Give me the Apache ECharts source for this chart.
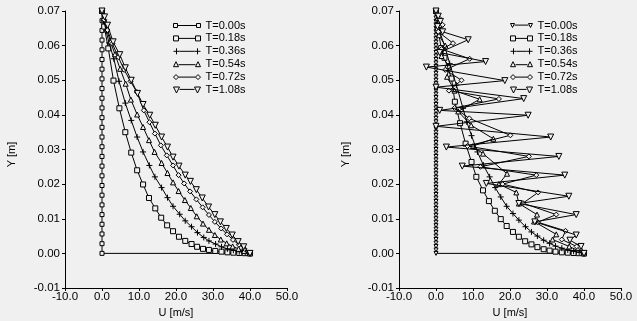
<!DOCTYPE html>
<html>
<head>
<meta charset="utf-8">
<script src="https://cdn.jsdelivr.net/npm/echarts@6/dist/echarts.min.js"></script>
<style>
html,body{margin:0;padding:0;background:#f0f0f0;overflow:hidden;}
#c{width:637px;height:321px;}
</style>
</head>
<body>
<div id="c"></div>
<script>
// ---------- data (U in m/s, Y in m) ----------
const seriesNames = ['T=0.00s','T=0.18s','T=0.36s','T=0.54s','T=0.72s','T=1.08s'];
const xTicks = [-10, 0, 10, 20, 30, 40, 50];
const yTicks = [-0.01, 0, 0.01, 0.02, 0.03, 0.04, 0.05, 0.06, 0.07];

// Left panel
const uL000 = [0,0,0,0,0,0,0,0,0,0,0,0,0,0,0,0,0,0,0,0,0,0,0,0,0,0,40];
const yL000 = [0.07,0.0672,0.0644,0.0616,0.0588,0.056,0.0532,0.0504,0.0476,0.0448,0.042,0.0392,0.0364,0.0336,0.0308,0.028,0.0252,0.0224,0.0196,0.0168,0.014,0.0112,0.0084,0.0056,0.0028,0,0];
const uL018 = [0,0.6,1.7,3.1,4.7,6.3,7.9,9.5,11.1,12.7,14.4,16.0,17.6,19.2,20.8,22.5,24.2,25.7,27.3,28.9,30.6,32.3,33.9,35.5,37.1,38.6,40];
const yL018 = [0.07,0.0655,0.0592,0.0499,0.0419,0.0350,0.0291,0.0240,0.0199,0.0160,0.0130,0.0103,0.0081,0.0064,0.0048,0.0036,0.0027,0.0019,0.0013,0.0010,0.0007,0.0005,0.0003,0.0002,0.0001,0.00005,0];
const uL036 = [0,0.5,1.1,1.9,3.2,4.6,6.3,7.9,9.5,11.1,12.8,14.3,16.1,17.7,19.2,21.0,22.5,24.2,25.8,27.5,28.9,30.7,32.3,33.9,35.5,37.1,38.7,40];
const yL036 = [0.07,0.0672,0.0643,0.0608,0.0562,0.0497,0.0434,0.0384,0.0336,0.0293,0.0254,0.0221,0.0190,0.0161,0.0136,0.0113,0.0094,0.0077,0.0060,0.0046,0.0036,0.0027,0.0019,0.0013,0.0009,0.0005,0.0002,0];
const uL054 = [0,0.4,1.2,2.3,3.5,4.9,6.4,7.8,9.5,11.1,12.7,14.2,16.1,17.7,19.2,20.7,22.4,24.0,25.6,27.3,28.9,30.5,32.1,33.7,35.3,36.9,38.4,40];
const yL054 = [0.07,0.0678,0.0647,0.0612,0.0575,0.0533,0.0490,0.0444,0.0401,0.0365,0.0327,0.0293,0.0261,0.0232,0.0205,0.0180,0.0154,0.0131,0.0107,0.0086,0.0068,0.0053,0.0040,0.0029,0.0020,0.0013,0.0007,0];
const uL072 = [0,0.6,1.5,2.8,4.4,6.0,7.7,9.4,11.3,12.8,14.3,15.9,17.5,19.2,20.7,22.2,23.8,25.5,27.2,28.9,30.5,32.2,33.8,35.4,37.0,38.5,40];
const yL072 = [0.07,0.0675,0.0645,0.0606,0.0567,0.0530,0.0497,0.0466,0.0413,0.0379,0.0346,0.0312,0.0283,0.0254,0.0226,0.0202,0.0179,0.0156,0.0133,0.0111,0.0091,0.0072,0.0055,0.0039,0.0025,0.0013,0];
const uL108 = [0,0.7,1.5,3.0,4.8,6.3,7.9,9.6,11.1,12.9,14.4,16.1,17.7,19.2,20.8,22.5,23.9,25.5,27.1,28.8,30.5,32.0,33.6,35.2,36.8,38.3,40];
const yL108 = [0.07,0.0683,0.0659,0.0611,0.0574,0.0536,0.0500,0.0462,0.0430,0.0399,0.0370,0.0336,0.0307,0.0278,0.0252,0.0226,0.0208,0.0184,0.0160,0.0134,0.0112,0.0091,0.0072,0.0053,0.0034,0.0019,0];

// Right panel
const uR000 = [0,0,0,0,0,0,0,0,0,0,0,0,0,0,0,0,0,0,0,0,0,0,0,0,0,0,0,0,0,0,0,0,0,0,0,0,0,0,0,0,0,0,0,0,0,0,0,0,0,0,0,0,0,0,0,0,0,0,0,0,0,0,0,0,0,0,0,0,0,0,0,40];
const yR000 = [0.070,0.069,0.068,0.067,0.066,0.065,0.064,0.063,0.062,0.061,0.060,0.059,0.058,0.057,0.056,0.055,0.054,0.053,0.052,0.051,0.050,0.049,0.048,0.047,0.046,0.045,0.044,0.043,0.042,0.041,0.040,0.039,0.038,0.037,0.036,0.035,0.034,0.033,0.032,0.031,0.030,0.029,0.028,0.027,0.026,0.025,0.024,0.023,0.022,0.021,0.020,0.019,0.018,0.017,0.016,0.015,0.014,0.013,0.012,0.011,0.010,0.009,0.008,0.007,0.006,0.005,0.004,0.003,0.002,0.001,0.000,0];
const uR018 = [0,0.5,1.4,2.3,3.2,4.2,5.1,6.5,8.0,9.6,10.9,12.7,14.3,15.9,17.5,19.1,20.8,22.4,24.1,25.8,27.4,29.1,30.7,32.3,34.0,35.6,37.2,38.6,40];
const yR018 = [0.07,0.065,0.0593,0.0565,0.0535,0.0505,0.0438,0.0376,0.0317,0.0264,0.0221,0.0182,0.0151,0.0123,0.0099,0.0079,0.0062,0.0048,0.0035,0.0026,0.0018,0.0012,0.0008,0.0005,0.0003,0.0002,0.0001,0.00005,0];
const uR036 = [0,1.0,2.4,3.7,5.5,7.3,8.3,9.6,11.2,12.8,14.5,16.0,17.5,19.1,20.8,22.4,24.2,25.8,27.4,29.1,30.7,32.3,34.0,35.6,37.2,38.7,40];
const yR036 = [0.07,0.064,0.0597,0.0548,0.0486,0.0419,0.0380,0.0340,0.0293,0.0255,0.0221,0.0190,0.0163,0.0136,0.0115,0.0096,0.0077,0.0062,0.0050,0.0038,0.0029,0.0021,0.0015,0.0010,0.0006,0.0003,0];
const uR054 = [0,0.5,1.2,0.8,2.5,1.5,3.5,3.0,5.0,11.8,6.0,9.5,15.5,10.0,12.7,19.2,17.0,21.7,22.4,27.3,26.5,32.5,31.5,36.0,40];
const yR054 = [0.07,0.068,0.066,0.063,0.060,0.057,0.054,0.051,0.047,0.0445,0.041,0.037,0.0331,0.031,0.0288,0.023,0.020,0.0176,0.0144,0.0112,0.0092,0.0055,0.0040,0.0020,0];
const uR072 = [0,0.8,1.8,0.6,4.6,1.5,9.1,2.5,6.9,3.5,17.0,5.0,9.0,20.1,8.5,25.1,12.0,27.1,18.0,27.6,23.5,32.5,27.5,35.0,34.0,38.0,40];
const yR072 = [0.07,0.068,0.066,0.064,0.0607,0.059,0.0562,0.053,0.050,0.047,0.0446,0.042,0.039,0.0341,0.031,0.028,0.025,0.0226,0.020,0.0176,0.0145,0.0112,0.009,0.0065,0.004,0.002,0];
const uR108 = [0,0.6,1.2,0.4,1.8,8.7,1.0,13.4,-2.6,18.6,0,23.7,1.0,24.9,0,31.0,2.8,33.2,7.1,34.8,13.6,35.9,22.4,37.9,26.7,37.9,36.2,39.2,40];
const yR108 = [0.07,0.0685,0.067,0.0655,0.064,0.0617,0.058,0.0554,0.0538,0.0499,0.048,0.0447,0.0413,0.0399,0.0367,0.0336,0.0307,0.0280,0.0252,0.0226,0.0202,0.0165,0.0144,0.0112,0.0091,0.0053,0.0038,0.0020,0];

// ---------- styling ----------
const BG = '#f0f0f0';
const FONT = '"Liberation Sans", Arial, sans-serif';
const zip = (u, y) => u.map((v, i) => [v, y[i]]);

const leftSets = [[uL000,yL000],[uL018,yL018],[uL036,yL036],[uL054,yL054],[uL072,yL072],[uL108,yL108]];
const rightSets = [[uR000,yR000],[uR018,yR018],[uR036,yR036],[uR054,yR054],[uR072,yR072],[uR108,yR108]];

const plusPath = 'path://M0,5L10,5M5,0L5,10';
const leftSymbols = [['rect',4,0],['rect',5,0],[plusPath,6,0],['triangle',5,0],['diamond',5,0],['triangle',6,180]];
const rightSymbols = [['triangle',4,180],['rect',5,0],[plusPath,6,0],['triangle',5,0],['diamond',5,0],['triangle',6,180]];

function mkSeries(sets, syms, idx) {
  return sets.map((s, i) => ({
    name: seriesNames[i],
    type: 'line',
    xAxisIndex: idx, yAxisIndex: idx,
    data: zip(s[0], s[1]),
    symbol: syms[i][0], symbolSize: syms[i][1], symbolRotate: syms[i][2],
    showAllSymbol: true,
    lineStyle: {color: '#000', width: 1},
    itemStyle: {color: BG, borderColor: '#000', borderWidth: 1},
    emphasis: {disabled: true},
    silent: true, animation: false, clip: false,
    z: 2 + i
  }));
}

// legend icons: marker - line - marker
function iconRect(w, s){ const m=(s)/2; return `path://M0,0h${s}v${s}h-${s}z M${s},${m}h${w-2*s} M${w-s},0h${s}v${s}h-${s}z`; }
function iconPlus(w, s){ const m=s/2; return `path://M0,${m}h${s} M${m},0v${s} M${s},${m}h${w-2*s} M${w-s},${m}h${s} M${w-m},0v${s}`; }
function iconTri(w, s){ return `path://M0,${s}L${s/2},0L${s},${s}Z M${s},${s*0.6}h${w-2*s} M${w-s},${s}L${w-s/2},0L${w},${s}Z`; }
function iconInv(w, s){ return `path://M0,0L${s},0L${s/2},${s}Z M${s},${s*0.4}h${w-2*s} M${w-s},0L${w},0L${w-s/2},${s}Z`; }
function iconDia(w, s){ const m=s/2; return `path://M0,${m}L${m},0L${s},${m}L${m},${s}Z M${s},${m}h${w-2*s} M${w-s},${m}L${w-m},0L${w},${m}L${w-m},${s}Z`; }

function mkLegend(left, w, first) {
  const icons = [first(w), iconRect(w,5), iconPlus(w,6), iconTri(w,5), iconDia(w,5), iconInv(w,6)];
  return {
    orient: 'vertical', left: left, top: 15,
    itemWidth: w, itemHeight: 6, itemGap: 1.9,
    data: seriesNames.map((n, i) => ({name: n, icon: icons[i]})),
    itemStyle: {color: BG, borderColor: '#000', borderWidth: 1},
    textStyle: {fontFamily: FONT, fontSize: 11, color: '#000', padding: [0,0,0,0]},
    selectedMode: false,
    inactiveColor: '#000'
  };
}

function mkX(idx) {
  return {
    gridIndex: idx, type: 'value', min: -10, max: 50, interval: 10,
    name: 'U [m/s]', nameLocation: 'middle', nameGap: 19,
    nameTextStyle: {fontFamily: FONT, fontSize: 11, color: '#000'},
    axisLine: {show: true, onZero: false, lineStyle: {color: '#000', width: 1}},
    axisTick: {show: true, length: 3, lineStyle: {color: '#000'}},
    axisLabel: {fontFamily: FONT, fontSize: 11.5, color: '#000', margin: 3,
      formatter: v => v.toFixed(1)},
    splitLine: {show: false}
  };
}
function mkY(idx) {
  return {
    gridIndex: idx, type: 'value', min: -0.01, max: 0.07, interval: 0.01,
    name: 'Y [m]', nameLocation: 'middle', nameGap: 48, nameRotate: 90,
    nameTextStyle: {fontFamily: FONT, fontSize: 11, color: '#000', padding: [0, 10, 0, 0]},
    axisLine: {show: true, onZero: false, lineStyle: {color: '#000', width: 1}},
    axisTick: {show: true, length: 3, lineStyle: {color: '#000'}},
    axisLabel: {fontFamily: FONT, fontSize: 11.5, color: '#000', margin: 5,
      formatter: v => (Math.round(v * 100) / 100).toFixed(2)},
    splitLine: {show: false}
  };
}

const chart = echarts.init(document.getElementById('c'), null, {renderer: 'canvas'});
chart.setOption({
  backgroundColor: BG,
  animation: false,
  grid: [
    {left: 65, top: 11, width: 222, height: 277, containLabel: false, outerBoundsMode: 'none'},
    {left: 399, top: 11, width: 222, height: 277, containLabel: false, outerBoundsMode: 'none'}
  ],
  xAxis: [mkX(0), mkX(1)],
  yAxis: [mkY(0), mkY(1)],
  legend: [
    mkLegend(168, 27, w => iconRect(w,4)),
    mkLegend(505, 22, w => iconInv(w,4))
  ],
  series: [].concat(mkSeries(leftSets, leftSymbols, 0), mkSeries(rightSets, rightSymbols, 1))
});
</script>
</body>
</html>
